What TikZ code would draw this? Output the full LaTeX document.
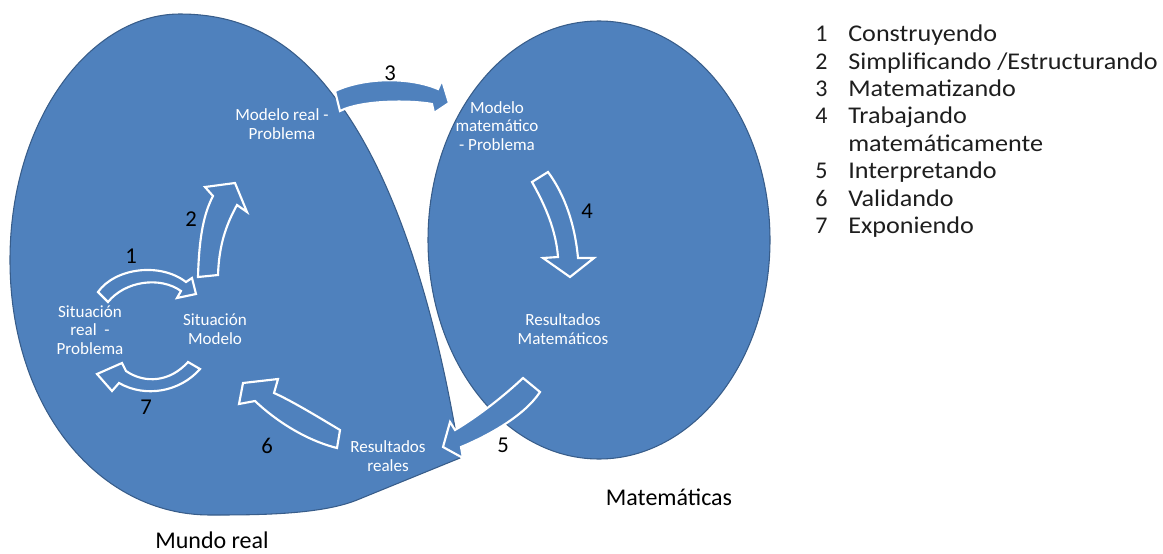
\documentclass[tikz,border=0pt]{standalone}
\usepackage{fontspec}
\setmainfont{Carlito}
\definecolor{blobblue}{RGB}{79,129,189}
\definecolor{blobedge}{RGB}{56,93,138}
\definecolor{legtext}{RGB}{30,30,30}
\begin{document}
\begin{tikzpicture}[x=0.75pt,y=-0.75pt,
  region/.style={fill=blobblue, draw=blobedge, line width=0.8pt},
  blockarrow/.style={fill=blobblue, draw=white, line width=1.6pt, line join=miter},
  lbl/.style={text=white, font=\fontsize{12.8}{14}\selectfont, align=center, inner sep=0pt},
  num/.style={font=\fontsize{17}{20}\selectfont, inner sep=0pt},
  ttl/.style={font=\fontsize{18}{21}\selectfont, inner sep=0pt},
  leg/.style={text=legtext, font=\fontsize{18}{21}\selectfont, anchor=base west, inner sep=0pt}]
\useasboundingbox (0,0) rectangle (1163,553);
% Mundo real (teardrop)
\path[region] (460,458) .. controls (440,330) and (400,180) .. (333,95)
  .. controls (290,38) and (240,14) .. (180,14)
  .. controls (90,14) and (10,120) .. (10,260)
  .. controls (10,410) and (100,515) .. (210,515)
  .. controls (255,515) and (320,515) .. (357,500) -- cycle;
% Matematicas (ellipse)
\path[region] (599,240) ellipse [x radius=171, y radius=219];
% arrow 1
\path[blockarrow] (98,292) .. controls (115,268) and (160,262) .. (186,282)
  -- (192,278) -- (196,294) -- (177,298) -- (181,291)
  .. controls (160,276) and (125,281) .. (108,302) -- cycle;
% arrow 2
\path[blockarrow] (198,277) .. controls (199,240) and (203,215) .. (213,196)
  -- (205,187) -- (235,183) -- (247,212) -- (237,205)
  .. controls (226,225) and (219,245) .. (218,275) -- cycle;
% arrow 3
\path[blockarrow] (335,91) .. controls (365,77) and (410,77) .. (438,89)
  -- (442,80) -- (449,103) -- (434,113) -- (432,104)
  .. controls (410,100) and (362,100) .. (340,111) -- cycle;
% arrow 4
\path[blockarrow] (532,182) .. controls (545,205) and (556,230) .. (558,257)
  -- (543,258) -- (570,277) -- (594,258) -- (578,258)
  .. controls (575,225) and (565,195) .. (548,172) -- cycle;
% arrow 5
\path[blockarrow] (523,378) .. controls (505,395) and (480,415) .. (455,430)
  -- (450,422) -- (443,447) -- (463,458) -- (461,447)
  .. controls (490,435) and (525,415) .. (540,392) -- cycle;
% arrow 6
\path[blockarrow] (340,430) .. controls (315,415) and (290,400) .. (274,393)
  -- (278,379) -- (243,383) -- (239,404) -- (255,401)
  .. controls (275,420) and (305,440) .. (337,448) -- cycle;
% arrow 7
\path[blockarrow] (188,362) .. controls (170,382) and (145,384) .. (126,371)
  -- (122,363) -- (97,374) -- (112,391) -- (119,383)
  .. controls (145,398) and (180,392) .. (200,369) -- cycle;
% white labels
\node[lbl] (mr) at (282,124) {Modelo real -\\Problema};
\node[lbl] (sr) at (90,330) {Situación\\real \ -\\Problema};
\node[lbl] (sm) at (215,329) {Situación\\Modelo};
\node[lbl] (rr) at (388,456) {Resultados\\reales};
\node[lbl] (mm) at (497,126) {Modelo\\matemático\\- Problema};
\node[lbl] (rm) at (563,329) {Resultados\\Matemáticos};
% numbers
\node[num] (n1) at (131,256) {1};
\node[num] (n2) at (191,219) {2};
\node[num] (n3) at (390,73) {3};
\node[num] (n4) at (587,211) {4};
\node[num] (n5) at (503,445) {5};
\node[num] (n6) at (267,446) {6};
\node[num] (n7) at (146,407) {7};
% titles
\node[ttl] (mundo) at (212,540) {Mundo real};
\node[ttl] (mate) at (669,497) {Matemáticas};
% legend
\node[leg] (k1) at (815,41.7) {1};
\node[leg] (t1) at (848,41.7) {\scalebox{1.09}[1]{Construyendo}};
\node[leg] (k2) at (815,69.1) {2};
\node[leg] (t2) at (848,69.1) {\scalebox{1.09}[1]{Simplificando /Estructurando}};
\node[leg] (k3) at (815,96.5) {3};
\node[leg] (t3) at (848,96.5) {\scalebox{1.09}[1]{Matematizando}};
\node[leg] (k4) at (815,123.9) {4};
\node[leg] (t4) at (848,123.9) {\scalebox{1.09}[1]{Trabajando}};
\node[leg] (t4b) at (848,151.3) {\scalebox{1.09}[1]{matemáticamente}};
\node[leg] (k5) at (815,178.7) {5};
\node[leg] (t5) at (848,178.7) {\scalebox{1.09}[1]{Interpretando}};
\node[leg] (k6) at (815,206.1) {6};
\node[leg] (t6) at (848,206.1) {\scalebox{1.09}[1]{Validando}};
\node[leg] (k7) at (815,233.5) {7};
\node[leg] (t7) at (848,233.5) {\scalebox{1.09}[1]{Exponiendo}};
\end{tikzpicture}
\end{document}
